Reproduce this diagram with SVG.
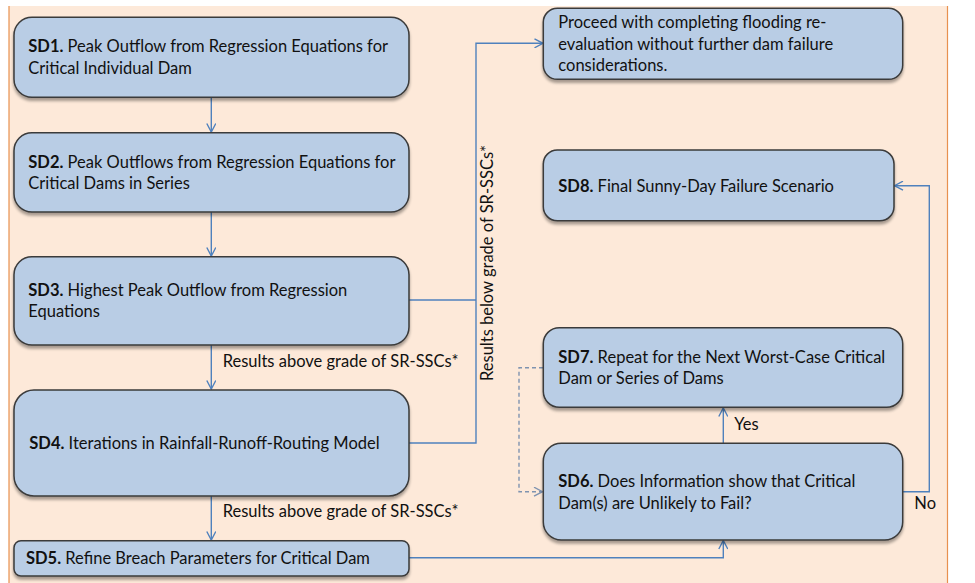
<svg xmlns="http://www.w3.org/2000/svg" width="975" height="583" viewBox="0 0 975 583">
<defs>
<style>
.bg{fill:#fde9d9;stroke:none}
.edge{stroke:#e8914f;stroke-width:1.2;fill:none}
.node rect{fill:#b9cde5;stroke:#3a3a3a;stroke-width:1.5;filter:url(#sh)}
text{font-family:Lato,"Liberation Sans",sans-serif;font-size:16.5px;fill:#111}
.b{font-weight:bold}
.c{stroke:#4f81bd;stroke-width:1.4;fill:none}
.d{stroke:#7f93b0;stroke-width:1.4;fill:none;stroke-dasharray:4 3}
</style>
<filter id="sh" x="-5%" y="-10%" width="110%" height="130%">
<feGaussianBlur in="SourceAlpha" stdDeviation="1.5"/>
<feOffset dx="0" dy="2.5" result="o"/>
<feComponentTransfer><feFuncA type="linear" slope="0.35"/></feComponentTransfer>
<feMerge><feMergeNode/><feMergeNode in="SourceGraphic"/></feMerge>
</filter>
<marker id="ah" viewBox="0 0 10 10" refX="9.5" refY="5" markerWidth="10" markerHeight="10" markerUnits="userSpaceOnUse" orient="auto">
<path d="M1,0.5 L9.5,5 L1,9.5" fill="none" stroke="#4f81bd" stroke-width="1.4"/>
</marker>
<marker id="ahd" viewBox="0 0 10 10" refX="9.5" refY="5" markerWidth="10" markerHeight="10" markerUnits="userSpaceOnUse" orient="auto">
<path d="M1,0.5 L9.5,5 L1,9.5" fill="none" stroke="#7f93b0" stroke-width="1.4"/>
</marker>
</defs>
<rect class="bg" x="9" y="6" width="939" height="577"/>
<line class="edge" x1="9" y1="6" x2="9" y2="583"/>
<line class="edge" x1="947.5" y1="6" x2="947.5" y2="583"/>

<g id="connectors">
<path class="c" d="M211.3,97 V132" marker-end="url(#ah)"/>
<path class="c" d="M211.3,212 V256" marker-end="url(#ah)"/>
<path class="c" d="M211.3,345 V389" marker-end="url(#ah)"/>
<path class="c" d="M211.3,496 V540" marker-end="url(#ah)"/>
<path class="c" d="M409,300 H476"/>
<path class="c" d="M409,443 H476 V43.3 H543" marker-end="url(#ah)"/>
<path class="c" d="M409,557.7 H723.3 V540.5" marker-end="url(#ah)"/>
<path class="c" d="M723.3,443 V408" marker-end="url(#ah)"/>
<path class="c" d="M903,491.7 H929.3 V185.7 H894.5" marker-end="url(#ah)"/>
<path class="d" d="M543,367.7 H519 V491.7 H542.5" marker-end="url(#ahd)"/>
<text x="222.7" y="366.7">Results above grade of SR-SSCs*</text>
<text x="222.7" y="517.3">Results above grade of SR-SSCs*</text>
<text x="0" y="0" text-anchor="middle" transform="translate(492.7,263) rotate(-90)">Results below grade of SR-SSCs*</text>
<text x="734.3" y="430">Yes</text>
<text x="914.3" y="509.3">No</text>
</g>

<g id="sd1" class="node">
<rect x="14" y="17.3" width="395" height="80" rx="18"/>
<text x="28.3" y="52.3"><tspan class="b">SD1.</tspan> Peak Outflow from Regression Equations for</text>
<text x="28.3" y="74">Critical Individual Dam</text>
</g>
<g id="sd2" class="node">
<rect x="14" y="132.7" width="395" height="79.3" rx="18"/>
<text x="28.3" y="167.7"><tspan class="b">SD2.</tspan> Peak Outflows from Regression Equations for</text>
<text x="28.3" y="189.3">Critical Dams in Series</text>
</g>
<g id="sd3" class="node">
<rect x="14" y="256.7" width="395" height="88.3" rx="18"/>
<text x="28.3" y="296"><tspan class="b">SD3.</tspan> Highest Peak Outflow from Regression</text>
<text x="28.3" y="317.3">Equations</text>
</g>
<g id="sd4" class="node">
<rect x="14" y="390" width="395" height="106" rx="20"/>
<text x="29.3" y="449"><tspan class="b">SD4.</tspan> Iterations in Rainfall-Runoff-Routing Model</text>
</g>
<g id="sd5" class="node">
<rect x="14" y="540.7" width="395" height="35.3" rx="7"/>
<text x="26" y="564"><tspan class="b">SD5.</tspan> Refine Breach Parameters for Critical Dam</text>
</g>
<g id="proceed" class="node">
<rect x="543.3" y="8.3" width="359.4" height="71" rx="14"/>
<text x="558.3" y="28.3">Proceed with completing flooding re-</text>
<text x="558.3" y="50">evaluation without further dam failure</text>
<text x="558.3" y="71">considerations.</text>
</g>
<g id="sd8" class="node">
<rect x="543.3" y="150" width="350.7" height="70.7" rx="14"/>
<text x="558.3" y="191.7"><tspan class="b">SD8.</tspan> Final Sunny-Day Failure Scenario</text>
</g>
<g id="sd7" class="node">
<rect x="543.3" y="327.7" width="359.4" height="79.6" rx="16"/>
<text x="558.3" y="362.7"><tspan class="b">SD7.</tspan> Repeat for the Next Worst-Case Critical</text>
<text x="558.3" y="384.3">Dam or Series of Dams</text>
</g>
<g id="sd6" class="node">
<rect x="543.3" y="443.3" width="359.4" height="96.7" rx="18"/>
<text x="558.3" y="487.3"><tspan class="b">SD6.</tspan> Does Information show that Critical</text>
<text x="558.3" y="509">Dam(s) are Unlikely to Fail?</text>
</g>
</svg>
